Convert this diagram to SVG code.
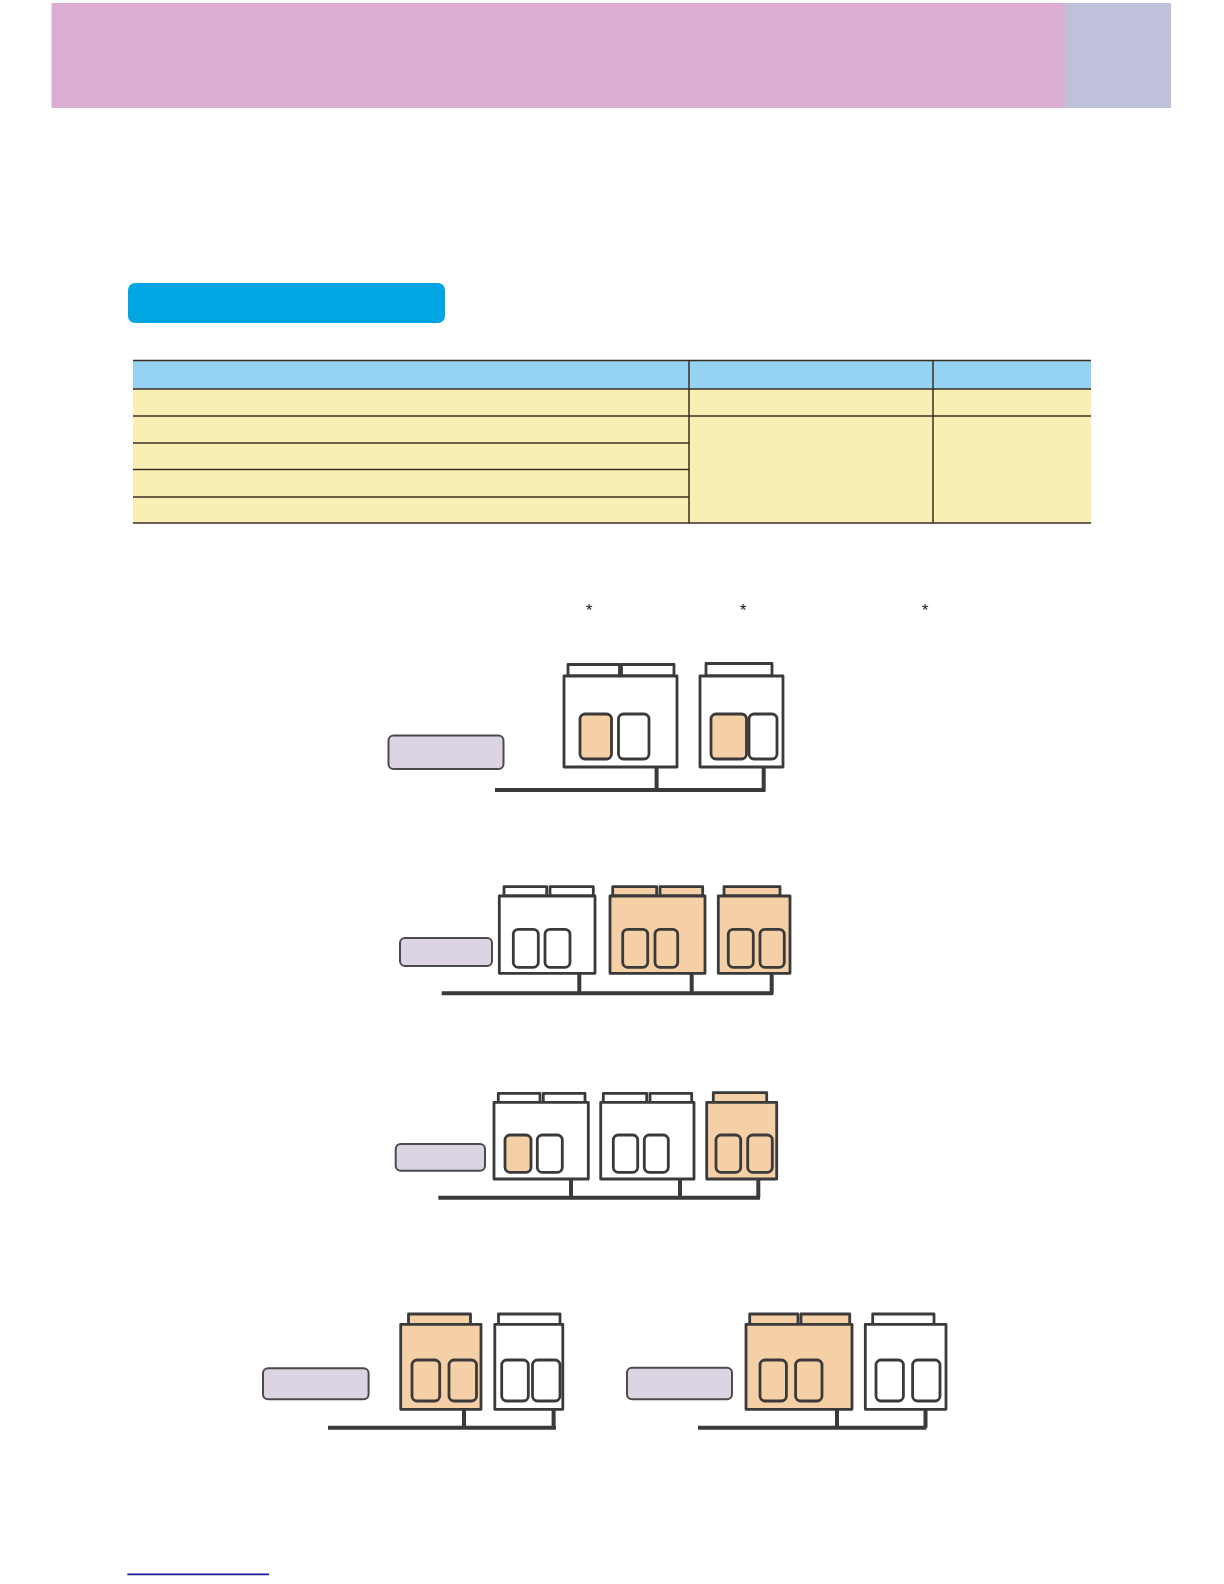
<svg xmlns="http://www.w3.org/2000/svg" width="1224" height="1584" viewBox="0 0 1224 1584">
<style>
.u{stroke:#3a3a3a;stroke-width:2.8;stroke-linejoin:round}
.w{fill:#ffffff}
.o{fill:#f5cfa6}
.s{stroke:#3a3a3a;stroke-width:2.8}
.lav{fill:#dcd3e3;stroke:#4a4a4a;stroke-width:2}
.bus{stroke:#3a3a3a;stroke-width:4;fill:none}
.tl{stroke:#3a2e25;stroke-width:1.5}
.ast{font-family:"Liberation Sans",Arial,sans-serif;font-size:17px;fill:#222}
</style>
<rect width="1224" height="1584" fill="#ffffff"/>
<g id="header">
<rect x="51.5" y="3" width="1014" height="105" fill="#dcadd2"/>
<rect x="1065" y="3" width="106" height="105" fill="#bfc0d9"/>
</g>
<g id="section-button">
<rect x="128" y="283" width="317" height="40" rx="7" fill="#00a5e1"/>
</g>
<g id="table">
<rect x="133" y="360.5" width="958" height="28.5" fill="#96d2f2"/>
<rect x="133" y="389" width="958" height="134" fill="#f9efb5"/>
<line class="tl" x1="133" y1="360.5" x2="1091" y2="360.5"/>
<line class="tl" x1="133" y1="389" x2="1091" y2="389"/>
<line class="tl" x1="133" y1="416" x2="1091" y2="416"/>
<line class="tl" x1="133" y1="443" x2="689" y2="443"/>
<line class="tl" x1="133" y1="469.5" x2="689" y2="469.5"/>
<line class="tl" x1="133" y1="497" x2="689" y2="497"/>
<line class="tl" x1="133" y1="523" x2="1091" y2="523"/>
<line class="tl" x1="689" y1="360.5" x2="689" y2="523"/>
<line class="tl" x1="933" y1="360.5" x2="933" y2="523"/>
</g>
<g id="asterisks">
<text class="ast" x="589" y="616" text-anchor="middle">*</text>
<text class="ast" x="743" y="616" text-anchor="middle">*</text>
<text class="ast" x="925" y="616" text-anchor="middle">*</text>
</g>

<!-- Diagram 1 -->
<g id="d1-controller"><rect class="lav" x="388.5" y="735.5" width="115" height="33.5" rx="5"/></g>
<g id="d1-unit1">
<rect class="u w" x="568" y="664.5" width="51.5" height="11.5"/>
<rect class="u w" x="621.5" y="664.5" width="52.5" height="11.5"/>
<rect class="u w" x="564" y="676" width="113" height="91"/>
<rect class="s o" x="580" y="714" width="31.5" height="45" rx="5"/>
<rect class="s w" x="618.5" y="714" width="30.5" height="45" rx="5"/>
</g>
<g id="d1-unit2">
<rect class="u w" x="706" y="663.5" width="66" height="12.5"/>
<rect class="u w" x="700" y="676" width="83" height="91"/>
<rect class="s o" x="711" y="714" width="35.5" height="45" rx="5"/>
<rect class="s w" x="749" y="714" width="28" height="45" rx="5"/>
</g>

<!-- Diagram 2 -->
<g id="d2-controller"><rect class="lav" x="400" y="938" width="92" height="28" rx="5"/></g>
<g id="d2-unit1">
<rect class="u w" x="504" y="886.7" width="42.7" height="9.3"/>
<rect class="u w" x="550" y="886.7" width="43.3" height="9.3"/>
<rect class="u w" x="499.3" y="896" width="95.7" height="77.3"/>
<rect class="s w" x="513.3" y="929.3" width="25" height="38" rx="5"/>
<rect class="s w" x="545" y="929.3" width="25" height="38" rx="5"/>
</g>
<g id="d2-unit2">
<rect class="u o" x="612.7" y="886.7" width="44" height="9.3"/>
<rect class="u o" x="660" y="886.7" width="42.7" height="9.3"/>
<rect class="u o" x="610" y="896" width="95" height="77.3"/>
<rect class="s o" x="622.7" y="929.3" width="25" height="38" rx="5"/>
<rect class="s o" x="655" y="929.3" width="22.7" height="38" rx="5"/>
</g>
<g id="d2-unit3">
<rect class="u o" x="724" y="886.7" width="56" height="9.3"/>
<rect class="u o" x="718.3" y="896" width="71.7" height="77.3"/>
<rect class="s o" x="728.3" y="929.3" width="25" height="38" rx="5"/>
<rect class="s o" x="760" y="929.3" width="24.3" height="38" rx="5"/>
</g>

<!-- Diagram 3 -->
<g id="d3-controller"><rect class="lav" x="395.7" y="1144" width="89.3" height="26.7" rx="5"/></g>
<g id="d3-unit1">
<rect class="u w" x="498.3" y="1093.3" width="41.7" height="9"/>
<rect class="u w" x="543.3" y="1093.3" width="41.7" height="9"/>
<rect class="u w" x="494" y="1102.3" width="94.3" height="76.7"/>
<rect class="s o" x="505" y="1135" width="26" height="37.3" rx="5"/>
<rect class="s w" x="537.3" y="1135" width="25" height="37.3" rx="5"/>
</g>
<g id="d3-unit2">
<rect class="u w" x="603.3" y="1093.3" width="43.4" height="9"/>
<rect class="u w" x="650" y="1093.3" width="41.7" height="9"/>
<rect class="u w" x="600.7" y="1102.3" width="93.3" height="76.7"/>
<rect class="s w" x="613.3" y="1135" width="24.4" height="37.3" rx="5"/>
<rect class="s w" x="644.3" y="1135" width="24" height="37.3" rx="5"/>
</g>
<g id="d3-unit3">
<rect class="u o" x="713.3" y="1092.7" width="53.4" height="9.6"/>
<rect class="u o" x="706.7" y="1102.3" width="70" height="76.7"/>
<rect class="s o" x="716" y="1135" width="24.7" height="37.3" rx="5"/>
<rect class="s o" x="747.7" y="1135" width="24.6" height="37.3" rx="5"/>
</g>

<!-- Diagram 4a -->
<g id="d4a-controller"><rect class="lav" x="263" y="1368.3" width="105.6" height="31" rx="5"/></g>
<g id="d4a-unit1">
<rect class="u o" x="408.5" y="1314" width="62" height="10.3"/>
<rect class="u o" x="400.7" y="1324.3" width="80.3" height="85"/>
<rect class="s o" x="412" y="1360" width="27.7" height="41" rx="5"/>
<rect class="s o" x="449" y="1360" width="27.5" height="41" rx="5"/>
</g>
<g id="d4a-unit2">
<rect class="u w" x="498.5" y="1314" width="61.5" height="10.3"/>
<rect class="u w" x="494.8" y="1324.3" width="68" height="85"/>
<rect class="s w" x="501.7" y="1360" width="26.6" height="41" rx="5"/>
<rect class="s w" x="532.5" y="1360" width="27.5" height="41" rx="5"/>
</g>

<!-- Diagram 4b -->
<g id="d4b-controller"><rect class="lav" x="627" y="1367.7" width="105" height="31.6" rx="5"/></g>
<g id="d4b-unit1">
<rect class="u o" x="749.7" y="1314" width="48.3" height="10.3"/>
<rect class="u o" x="801" y="1314" width="48.7" height="10.3"/>
<rect class="u o" x="746" y="1324.3" width="106" height="85"/>
<rect class="s o" x="760" y="1360" width="26.4" height="41" rx="5"/>
<rect class="s o" x="795.6" y="1360" width="26.4" height="41" rx="5"/>
</g>
<g id="d4b-unit2">
<rect class="u w" x="872.7" y="1314" width="61.3" height="10.3"/>
<rect class="u w" x="865.3" y="1324.3" width="80.7" height="85"/>
<rect class="s w" x="876" y="1360" width="27.4" height="41" rx="5"/>
<rect class="s w" x="912.6" y="1360" width="27.4" height="41" rx="5"/>
</g>

<g id="connectors">
<path class="bus" d="M495 790 H765.5 M656.6 767 V790 M763.7 767 V790"/>
<path class="bus" d="M441.7 993.3 H773.3 M579.3 973.3 V993.3 M691.7 973.3 V993.3 M771.7 973.3 V993.3"/>
<path class="bus" d="M438.3 1197.7 H760 M571 1179 V1197.7 M680 1179 V1197.7 M758.3 1179 V1197.7"/>
<path class="bus" d="M328 1427.7 H556 M464 1409.3 V1427.7 M553.6 1409.3 V1427.7"/>
<path class="bus" d="M698 1427.7 H926.4 M837 1409.3 V1427.7 M925.5 1409.3 V1427.7"/>
</g>
<g id="footer-line">
<line x1="127.3" y1="1574.3" x2="269" y2="1574.3" stroke="#1a1a9a" stroke-width="1.8"/>
</g>
</svg>
